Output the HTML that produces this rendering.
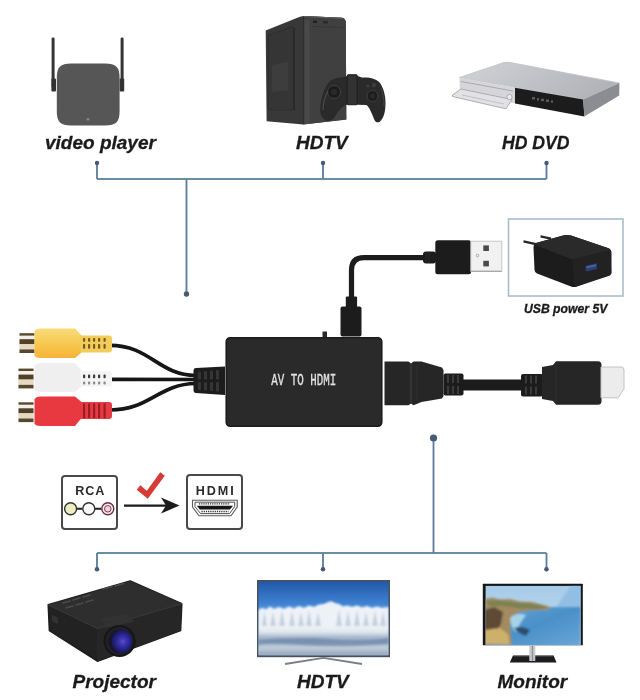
<!DOCTYPE html>
<html><head><meta charset="utf-8">
<style>
html,body{margin:0;padding:0;background:#fff;}
body{width:640px;height:700px;overflow:hidden;position:relative;font-family:"Liberation Sans",sans-serif;}
svg{position:absolute;left:0;top:0;display:block;}
.lbl{font-family:"Liberation Sans",sans-serif;font-weight:bold;font-style:italic;fill:#1a1a1a;stroke:#1a1a1a;stroke-width:0.3px;}
</style></head>
<body>
<svg width="640" height="700" viewBox="0 0 640 700">
<defs>
  <linearGradient id="sky" x1="0" y1="0" x2="0" y2="1">
    <stop offset="0" stop-color="#2258a8"/>
    <stop offset="0.3" stop-color="#3f82d2"/>
    <stop offset="0.42" stop-color="#6aa6e2"/>
    <stop offset="1" stop-color="#9cc4ea"/>
  </linearGradient>
  <linearGradient id="water" x1="0" y1="0" x2="0" y2="1">
    <stop offset="0" stop-color="#eef2f6"/>
    <stop offset="0.18" stop-color="#dfe6ee"/>
    <stop offset="0.35" stop-color="#a9bace"/>
    <stop offset="0.5" stop-color="#93a8c2"/>
    <stop offset="0.72" stop-color="#c2cedb"/>
    <stop offset="1" stop-color="#92a2b8"/>
  </linearGradient>
  <linearGradient id="msky" x1="0" y1="0" x2="0" y2="1">
    <stop offset="0" stop-color="#a6cbe8"/>
    <stop offset="1" stop-color="#c4dcef"/>
  </linearGradient>
  <linearGradient id="msea" x1="0" y1="0" x2="1" y2="1">
    <stop offset="0" stop-color="#62a8d4"/>
    <stop offset="0.5" stop-color="#4a90c8"/>
    <stop offset="1" stop-color="#6aa6d6"/>
  </linearGradient>
  <linearGradient id="ylw" x1="0" y1="0" x2="0" y2="1">
    <stop offset="0" stop-color="#f9dc7c"/>
    <stop offset="0.6" stop-color="#f7c447"/>
    <stop offset="1" stop-color="#f5b43a"/>
  </linearGradient>
  <clipPath id="tvclip"><rect x="258.3" y="581.3" width="130.4" height="74.2"/></clipPath>
  <clipPath id="monclip"><rect x="485.6" y="585.8" width="95.2" height="59.4"/></clipPath>
  <filter id="soft1" x="-5%" y="-5%" width="110%" height="110%"><feGaussianBlur stdDeviation="0.9"/></filter>
  <filter id="soft2" x="-5%" y="-5%" width="110%" height="110%"><feGaussianBlur stdDeviation="1.4"/></filter>
  <filter id="glob" filterUnits="userSpaceOnUse" x="0" y="0" width="640" height="700"><feGaussianBlur stdDeviation="0.45"/></filter>
  <linearGradient id="dvdtop" x1="0" y1="0" x2="1" y2="0.3">
    <stop offset="0" stop-color="#d2d3d7"/>
    <stop offset="1" stop-color="#b3b4b9"/>
  </linearGradient>
  <radialGradient id="lens" cx="0.6" cy="0.5" r="0.55">
    <stop offset="0" stop-color="#6048c8"/>
    <stop offset="0.35" stop-color="#3430a8"/>
    <stop offset="0.75" stop-color="#1e1c70"/>
    <stop offset="1" stop-color="#16161e"/>
  </radialGradient>
</defs>
<g filter="url(#glob)">
<rect x="0" y="0" width="640" height="700" fill="#fff"/>

<!-- ============ connection lines ============ -->
<g stroke="#6a8ea2" stroke-width="1.85" fill="none">
  <path d="M97 179 H546.5"/>
  <path d="M97 553 H546.5"/>
</g>
<g stroke="#5b7e9f" stroke-width="1.85" fill="none">
  <path d="M97 163 V179"/>
  <path d="M323 163 V179"/>
  <path d="M546.5 163 V179"/>
  <path d="M186.5 179 V293"/>
  <path d="M433.5 438 V553"/>
  <path d="M97 553 V569"/>
  <path d="M323 553 V569"/>
  <path d="M546.5 553 V569"/>
</g>
<g fill="#485a72">
  <circle cx="97" cy="163" r="2.2"/>
  <circle cx="323" cy="163" r="2.2"/>
  <circle cx="546.5" cy="163" r="2.2"/>
  <circle cx="186.5" cy="294" r="2.7"/>
  <circle cx="433.5" cy="438" r="3.6"/>
  <circle cx="97" cy="569.2" r="2.3"/>
  <circle cx="323" cy="569.2" r="2.3"/>
  <circle cx="546.5" cy="569.2" r="2.3"/>
</g>

<!-- ============ video player ============ -->
<g>
  <rect x="51.6" y="37.5" width="3" height="50" rx="1.2" fill="#363636"/>
  <rect x="51.4" y="78.5" width="4.6" height="13" rx="1" fill="#313131"/>
  <rect x="120.6" y="37.5" width="3" height="50" rx="1.2" fill="#363636"/>
  <rect x="119.6" y="78.5" width="4.6" height="13" rx="1" fill="#313131"/>
  <path d="M71 63.5 H105 C116 63.5 119.6 67 119.6 78 V111 C119.6 122 116 125.5 105 125.5 H71 C60.4 125.5 56.8 122 56.8 111 V78 C56.8 67 60.4 63.5 71 63.5 Z" fill="#575757"/>
  <circle cx="88" cy="119.3" r="1.3" fill="#8a8a8a"/>
</g>
<text class="lbl" x="45" y="149" font-size="19">video player</text>

<!-- ============ PC tower + controller ============ -->
<g>
  <path d="M265.7 30.5 L298 17.5 Q301 16 304 16 L342 17.8 Q345.5 18.5 345.8 22 L346.3 119.5 L303.4 124.5 L266.6 121.2 Z" fill="#383838"/>
  <path d="M303 16 L342 17.8 Q345.5 18.5 345.8 22 L346.3 119.5 L303 124.5 Z" fill="#414141"/>
  <path d="M303.6 16.5 L303.6 124" stroke="#2e2e2e" stroke-width="1"/>
  <rect x="304.5" y="20" width="5" height="104" fill="#484848"/>
  <path d="M268.5 35 L291.5 27 Q293.5 26.5 293.5 28.5 L293.5 108 Q293.5 110 291.5 110 L270 110 Q268.5 110 268.5 108 Z" fill="#363636" stroke="#2e2e2e" stroke-width="1.2"/>
  <path d="M293 28 L295 28 L295 110 L293 110 Z" fill="#2a2a2a"/>
  <path d="M272 65 L288 62 L288 90 L272 92 Z" fill="#3e3e3e"/>
  <path d="M304 16.5 L342 18.3" stroke="#5e5e5e" stroke-width="1.2" fill="none"/>
  <rect x="313" y="20.5" width="4" height="2.5" fill="#222"/>
  <rect x="323" y="21" width="5" height="2.5" fill="#2a2a2a"/>
  <path d="M311 26.5 L343 27.5" stroke="#363636" stroke-width="1" fill="none"/>
<path d="M326 120.5 C321 118 319.5 112 320.5 106 C321.5 97 324 88 329 82 C332 79 337 77.5 342 77.5 L347 76 L347.5 74.6 L357 74.6 L357.5 76 L362 77.5 C370 77 377 79 380 83 C384 89 385.5 96 385.5 103 C385.5 111 384 118 380 121.5 C378 123 375.5 122.5 374.5 120 C372 114 370 108 366.5 105 L357 104.7 L347 104.7 C342 106 339 110 336 115 C333 120 330 122 326 120.5 Z" fill="#292929"/>
  <rect x="347.3" y="74.8" width="9.8" height="30" rx="1" fill="#303030" stroke="#202020" stroke-width="0.8"/>
  <circle cx="334" cy="92" r="6.5" fill="#1e1e1e" stroke="#404040" stroke-width="1"/>
  <circle cx="334" cy="92" r="3" fill="#2c2c2c"/>
  <circle cx="372.5" cy="96" r="5.5" fill="#1e1e1e" stroke="#404040" stroke-width="1"/>
  <circle cx="372.5" cy="96" r="2.5" fill="#2c2c2c"/>
  <circle cx="374" cy="85" r="2.2" fill="#3c3c3c"/>
  <circle cx="368" cy="86" r="1.6" fill="#3c3c3c"/>
  <path d="M323 110 Q323.5 99 328 91" stroke="#4a4a4a" stroke-width="1.3" fill="none"/>
  <path d="M381 88 Q384 96 384 106" stroke="#404040" stroke-width="1.1" fill="none"/>
</g>
<text class="lbl" x="296" y="149" font-size="19">HDTV</text>

<!-- ============ HD DVD ============ -->
<g stroke-linejoin="round">
  <path d="M459.4 77.5 L503.8 62.5 L509 62.3 L619.4 83 L583.3 99.5 Z" fill="url(#dvdtop)" stroke="#c0c1c6" stroke-width="0.8"/>
  <path d="M459.4 77.8 L515 87.7 L515 103.5 L460 91.5 Z" fill="#d6d6da"/>
  <path d="M461 81.5 L513 91" stroke="#a8a8ae" stroke-width="1"/>
  <path d="M452.5 95 L461 89 L512 99.5 L506 108.8 L452.5 96.5 Z" fill="#e2e2e5" stroke="#a6a6ac" stroke-width="0.9"/>
  <path d="M462 95 L504 104" stroke="#b8b8be" stroke-width="0.8"/>
  <circle cx="509.5" cy="97" r="2.6" fill="#ececee" stroke="#9a9aa0" stroke-width="0.7"/>
  <path d="M515 87.7 L583.3 99.5 L584.3 116.5 L515 103.6 Z" fill="#1c1c1e"/>
  <g fill="#5a5a60"><rect x="532" y="97" width="3" height="2.5"/><rect x="537" y="98" width="2" height="2.5"/><rect x="541" y="98.7" width="3" height="2.5"/><rect x="546" y="99.5" width="3" height="2.5"/><rect x="551" y="100.3" width="2" height="2.5"/></g>
  <path d="M583.3 99.5 L619.4 83 L619.2 95.5 L584.3 116.5 Z" fill="#8c8d92"/>
</g>
<text class="lbl" x="502" y="149" font-size="19" textLength="67.5" lengthAdjust="spacingAndGlyphs">HD DVD</text>

<!-- ============ RCA cables ============ -->
<g fill="none" stroke="#151515" stroke-width="3.7" stroke-linecap="round">
  <path d="M110 345.3 C150 345.3 158 375 196 375.5"/>
  <path d="M110 379.3 L196 379.5"/>
  <path d="M110 410 C150 410 158 384 196 383.5"/>
</g>
<!-- yellow -->
<g>
  <rect x="19.5" y="333.2" width="15" height="19.8" fill="#f3efe6"/>
  <rect x="19.5" y="333.2" width="15" height="2.4" fill="#5a4a33"/>
  <rect x="19.5" y="339.2" width="15" height="5" fill="#4f3f28"/>
  <rect x="19.5" y="344.2" width="15" height="5" fill="#e6d9c2"/>
  <rect x="19.5" y="349.4" width="15" height="3.6" fill="#56462f"/>
  <path d="M34.5 331 Q35.5 328.5 41 328.5 H75 L81.5 335.5 V352.5 L75 358 H41 Q35.5 358 34.5 355.5 Z" fill="url(#ylw)"/>
  <path d="M80.5 335.5 H109 Q112 335.5 112 338.5 V349.5 Q112 352.5 109 352.5 H80.5 Z" fill="#f3cd5c"/>
  <rect x="83" y="338" width="2.2" height="3.8" rx="0.8" fill="#7a5a1e"/><rect x="88" y="338" width="2.2" height="3.8" rx="0.8" fill="#7a5a1e"/><rect x="93" y="338" width="2.2" height="3.8" rx="0.8" fill="#7a5a1e"/><rect x="98" y="338" width="2.2" height="3.8" rx="0.8" fill="#7a5a1e"/><rect x="103.5" y="338" width="2.2" height="3.8" rx="0.8" fill="#7a5a1e"/>
  <rect x="83" y="344" width="2.2" height="4.8" rx="0.8" fill="#7a5a1e"/><rect x="88" y="344" width="2.2" height="4.8" rx="0.8" fill="#7a5a1e"/><rect x="93" y="344" width="2.2" height="4.8" rx="0.8" fill="#7a5a1e"/><rect x="98" y="344" width="2.2" height="4.8" rx="0.8" fill="#7a5a1e"/><rect x="103.5" y="344" width="2.2" height="4.8" rx="0.8" fill="#7a5a1e"/>
</g>
<!-- white -->
<g>
  <rect x="18.5" y="368.6" width="15" height="19.8" fill="#f3efe6"/>
  <rect x="18.5" y="368.6" width="15" height="2.4" fill="#5a4a33"/>
  <rect x="18.5" y="374.6" width="15" height="5" fill="#4f3f28"/>
  <rect x="18.5" y="379.6" width="15" height="5" fill="#e6d9c2"/>
  <rect x="18.5" y="384.8" width="15" height="3.6" fill="#56462f"/>
  <path d="M34.5 366 Q35.5 363 41 363 H75 L81.5 371 V386.5 L75 392 H41 Q35.5 392 34.5 389.5 Z" fill="#efefef"/>
  <path d="M80.5 371 H109 Q112 371 112 374 V383.5 Q112 386.5 109 386.5 H80.5 Z" fill="#f4f4f4"/>
  <rect x="83" y="374.6" width="2.2" height="3.6" rx="0.8" fill="#3a3a3a"/><rect x="88" y="374.6" width="2.2" height="3.6" rx="0.8" fill="#3a3a3a"/><rect x="93" y="374.6" width="2.2" height="3.6" rx="0.8" fill="#3a3a3a"/><rect x="98" y="374.6" width="2.2" height="3.6" rx="0.8" fill="#3a3a3a"/><rect x="103.5" y="374.6" width="2.2" height="3.6" rx="0.8" fill="#3a3a3a"/>
  <rect x="83" y="381.5" width="2.2" height="3" rx="0.8" fill="#8a8a8a"/><rect x="88" y="381.5" width="2.2" height="3" rx="0.8" fill="#8a8a8a"/><rect x="93" y="381.5" width="2.2" height="3" rx="0.8" fill="#8a8a8a"/><rect x="98" y="381.5" width="2.2" height="3" rx="0.8" fill="#8a8a8a"/><rect x="103.5" y="381.5" width="2.2" height="3" rx="0.8" fill="#8a8a8a"/>
</g>
<!-- red -->
<g>
  <rect x="18.5" y="402.3" width="15" height="19.8" fill="#f3efe6"/>
  <rect x="18.5" y="402.3" width="15" height="2.4" fill="#5a4a33"/>
  <rect x="18.5" y="408.3" width="15" height="5" fill="#4f3f28"/>
  <rect x="18.5" y="413.3" width="15" height="5" fill="#e6d9c2"/>
  <rect x="18.5" y="418.5" width="15" height="3.6" fill="#56462f"/>
  <path d="M34.5 399.5 Q35.5 396.5 41 396.5 H75 L81.5 402 V418 L75 426 H41 Q35.5 426 34.5 423.5 Z" fill="#e8373f"/>
  <path d="M80.5 402 H109 Q112 402 112 405 V416 Q112 419 109 419 H80.5 Z" fill="#e53b42"/>
  <rect x="83" y="403.2" width="2.2" height="15" rx="0.8" fill="#9e1f25"/><rect x="88" y="403.2" width="2.2" height="15" rx="0.8" fill="#9e1f25"/><rect x="93" y="403.2" width="2.2" height="15" rx="0.8" fill="#9e1f25"/><rect x="98" y="403.2" width="2.2" height="15" rx="0.8" fill="#9e1f25"/><rect x="103.5" y="403.2" width="2.2" height="15" rx="0.8" fill="#9e1f25"/>
</g>
<!-- boot -->
<path d="M196 368 L225 366.5 L225 395 L196 393 Q193.5 393 193.5 390 V371 Q193.5 368 196 368 Z" fill="#1c1c1c"/>
<g fill="#363636"><rect x="198" y="371.5" width="3" height="8" rx="1"/><rect x="204" y="371" width="3" height="8.5" rx="1"/><rect x="210" y="370.5" width="3" height="9" rx="1"/><rect x="216" y="370" width="3" height="9.5" rx="1"/>
<rect x="198" y="382" width="3" height="8" rx="1"/><rect x="204" y="382" width="3" height="8.5" rx="1"/><rect x="210" y="382" width="3" height="9" rx="1"/><rect x="216" y="382" width="3" height="9.5" rx="1"/></g>

<!-- ============ USB cable + plug ============ -->
<path d="M351.5 300 V270 Q351.5 257.6 364 257.6 H426" fill="none" stroke="#1c1c1c" stroke-width="5.2"/>
<rect x="345.8" y="296.4" width="11.3" height="11" rx="1" fill="#1e1e1e"/>
<rect x="340.5" y="306.5" width="21" height="30" rx="2" fill="#1e1e1e"/>
<rect x="423" y="251.5" width="13" height="12" rx="3" fill="#1c1c1c"/>
<path d="M426 252 V263 M429 252 V263" stroke="#2c2c2c" stroke-width="0.8"/>
<rect x="435.3" y="240.3" width="35.8" height="34" rx="2.5" fill="#1f1f1f"/>
<rect x="470.8" y="241.2" width="31" height="30.2" fill="#f1f1f1" stroke="#c2c2c2" stroke-width="0.9"/>
<path d="M471 271.2 H501.5" stroke="#9a9a9a" stroke-width="1"/>
<rect x="483.3" y="245.4" width="5.6" height="5.6" fill="#4a4a4a"/>
<rect x="483.3" y="260.8" width="5.6" height="5.6" fill="#4a4a4a"/>
<circle cx="477.5" cy="255.5" r="1.3" fill="none" stroke="#9a9a9a" stroke-width="0.8"/>

<!-- ============ AV to HDMI box ============ -->
<rect x="322.5" y="331.5" width="4.5" height="7" fill="#2a2a2a"/>
<rect x="226.2" y="337.7" width="155.6" height="88.6" rx="4" fill="#2a2a2a" stroke="#1a1a1a" stroke-width="1.5"/>
<text x="271.2" y="385.4" font-size="16" fill="#e4e4e4" stroke="#e4e4e4" stroke-width="0.3" font-family="Liberation Mono, monospace" textLength="65" lengthAdjust="spacingAndGlyphs">AV TO HDMI</text>

<!-- ============ USB power charger ============ -->
<rect x="508.5" y="219" width="114.5" height="77" fill="#fff" stroke="#a9bcc8" stroke-width="1.6"/>
<g stroke-linejoin="round">
  <path d="M523.5 241.3 L537 244.3" stroke="#262626" stroke-width="2.4"/>
  <path d="M540.5 236.3 L551 238.6" stroke="#262626" stroke-width="2.4"/>
  <path d="M536 243 Q533.5 244 533.5 247 L534.5 270 Q534.7 272.5 537 273.5 L571 286.5 Q574 287.5 577 286.5 L608.5 276 Q611.5 275 611.5 272 L611.5 253 Q611.5 249.5 608.5 248.3 L571 235.5 Q567.5 234.5 564 235.3 Z" fill="#1f1f1f"/>
  <path d="M536 243 L564 235.3 Q567.5 234.5 571 235.5 L608.5 248.3 Q610.5 249 609 250.5 L576 259 Q573 259.8 570 258.6 L536 245 Q534 244 536 243 Z" fill="#2a2a2a"/>
  <path d="M572.5 259.3 L610.5 250 L611.3 273.5 L575 287 Z" fill="#242424"/>
  <path d="M585.5 265.8 L596.8 263.3 L597 269 L585.7 271.5 Z" fill="#2d3f72"/>
  <path d="M586.5 266.6 L596 264.5 L596 266.2 L586.5 268.3 Z" fill="#4a64a8"/>
</g>
<text class="lbl" x="524" y="312.6" font-size="12.2" fill="#333">USB power 5V</text>

<!-- ============ HDMI cable ============ -->
<rect x="460" y="379.5" width="64" height="11" fill="#1c1c1c"/>
<path d="M384.5 361.5 L408.5 361.5 L411 363.5 L413.5 361.5 L421.5 361.5 L442 367.5 L443.5 370 V396 L442 398.5 L421.5 402 L413.5 405.3 L411 403.5 L408.5 405.3 L384.5 405.3 Z" fill="#262626"/>
<path d="M411 364 V403" stroke="#3a3a3a" stroke-width="1"/>
<path d="M417 366 V400" stroke="#303030" stroke-width="1.2"/>
<rect x="443.5" y="373.5" width="20" height="22" rx="2" fill="#1c1c1c"/>
<g fill="#3a3a3a"><rect x="447" y="375" width="2" height="8"/><rect x="452" y="375" width="2" height="8"/><rect x="457" y="375" width="2" height="8"/>
<rect x="447" y="386" width="2" height="8"/><rect x="452" y="386" width="2" height="8"/><rect x="457" y="386" width="2" height="8"/></g>
<rect x="521" y="374" width="22" height="22.5" rx="2" fill="#1c1c1c"/>
<g fill="#3a3a3a"><rect x="525" y="375.5" width="2" height="8"/><rect x="530" y="375.5" width="2" height="8"/><rect x="535" y="375.5" width="2" height="8"/>
<rect x="525" y="386.5" width="2" height="8"/><rect x="530" y="386.5" width="2" height="8"/><rect x="535" y="386.5" width="2" height="8"/></g>
<path d="M542 367 L553 365 L556 361.2 L598 361.2 Q601.5 361.2 601.5 365 V401 Q601.5 404.8 598 404.8 L556 404.8 L553 401 L542 399 Z" fill="#262626"/>
<path d="M556 363 V403" stroke="#333" stroke-width="1"/>
<path d="M601 367 L621 367 Q624 367 624 370 V389 L618 397.8 L601 397.8 Z" fill="#ececec" stroke="#c4c4c4" stroke-width="1"/>

<!-- ============ RCA -> HDMI icons ============ -->
<rect x="62" y="476" width="55" height="53" rx="3" fill="#fff" stroke="#4a4a4a" stroke-width="2"/>
<text x="75.3" y="495.3" font-size="12.6" font-weight="bold" fill="#2a2a2a" font-family="Liberation Sans, sans-serif" letter-spacing="0.9">RCA</text>
<path d="M76.5 508.8 H82.5 M95 508.8 H101.5" stroke="#222" stroke-width="2"/>
<circle cx="70.6" cy="508.8" r="6" fill="#eeeec0" stroke="#333" stroke-width="1.4"/>
<circle cx="88.8" cy="508.8" r="6" fill="#fafafa" stroke="#333" stroke-width="1.4"/>
<circle cx="107.8" cy="508.8" r="6" fill="#fbeef2" stroke="#6a3040" stroke-width="1.4"/>
<circle cx="107.8" cy="508.8" r="3.3" fill="#f6d0de" stroke="#7a3a50" stroke-width="1"/>

<path d="M124 505.6 H170" stroke="#1a1a1a" stroke-width="2.4"/>
<path d="M179.5 505.6 L161 497.5 L166 505.6 L161 513.5 Z" fill="#1a1a1a"/>
<path d="M138.5 487.5 L147.3 494.8 L162.5 474" fill="none" stroke="#d63b36" stroke-width="5.6" stroke-linejoin="miter" stroke-miterlimit="6"/>

<rect x="187" y="475" width="55" height="54" rx="3" fill="#fff" stroke="#4a4a4a" stroke-width="2"/>
<text x="195.8" y="494.5" font-size="12.6" font-weight="bold" fill="#2a2a2a" font-family="Liberation Sans, sans-serif" letter-spacing="1.9">HDMI</text>
<path d="M192.5 500.3 H237.2 V507 L231 515.8 H199 L192.5 507 Z" fill="#fff" stroke="#5a5a5a" stroke-width="1.1"/>
<path d="M195 502.2 H234.7 V506.6 L229.6 513.6 H200.6 L195 506.6 Z" fill="#fff" stroke="#3a3a3a" stroke-width="0.9"/>
<path d="M199 503.9 H230" stroke="#2a2a2a" stroke-width="1.3" stroke-dasharray="1.2 1"/>
<path d="M196.8 505.8 H233 L230 509.6 H199.8 Z" fill="#151515"/>
<path d="M201.5 511.5 H228.5" stroke="#2a2a2a" stroke-width="1.3" stroke-dasharray="1.2 1"/>

<!-- ============ Projector ============ -->
<g stroke-linejoin="round">
  <path d="M48.2 604.8 L130.2 580.9 L181.8 603.6 L180.6 630.6 L97.4 661.2 L49.4 630.6 Z" fill="#232323" stroke="#1c1c1c" stroke-width="1.5"/>
  <path d="M48.2 604.8 L130.2 580.9 L181.8 603.6 L97.4 628.5 Z" fill="#2d2d2d"/>
  <path d="M97.4 628.5 L181.8 603.6 L180.6 630.6 L97.4 661.2 Z" fill="#282828"/>
  <path d="M48.2 604.8 L97.4 628.5" stroke="#3a3a3a" stroke-width="1"/>
  <path d="M97.4 628.5 L181.8 603.6" stroke="#3a3a3a" stroke-width="1"/>
  <g stroke="#4a4a4a" stroke-width="1.6" stroke-linecap="round">
    <path d="M63 603 L70 601"/><path d="M73 600 L80 598"/><path d="M83 597 L90 595"/>
    <path d="M66 608 L73 606"/><path d="M76 605 L83 603"/><path d="M86 602 L93 600"/>
    <path d="M103 589 L112 586.5"/><path d="M115 586 L124 583.5"/>
  </g>
  <path d="M52 615 L58 618 L58 624 L52 621 Z" fill="#333"/>
  <path d="M100 618 L128 614 L134 622 L106 628 Z" fill="#303030"/>
  <circle cx="119.5" cy="641" r="16" fill="#151515"/>
  <circle cx="119.5" cy="641" r="13.5" fill="#1e1e2a" stroke="#2a2a2a" stroke-width="0.8"/>
  <ellipse cx="120.5" cy="641.5" rx="11.5" ry="12" fill="url(#lens)"/>
</g>
<text class="lbl" x="72.5" y="687.5" font-size="19">Projector</text>

<!-- ============ HDTV (bottom) ============ -->
<g>
  <rect x="257" y="580" width="133" height="77.2" fill="#4b4f57"/>
  <g clip-path="url(#tvclip)">
  <rect x="258.3" y="581.3" width="130.4" height="74.2" fill="url(#sky)"/>
  <g filter="url(#soft1)">
  <path d="M258.3 610 L262 608 L266 609.5 L270 606.5 L274 609 L279 607 L284 609 L289 606.5 L294 608.5 L299 606 L304 608 L309 605.5 L314 607 L319 604.5 L324 604 L328 602 L331.5 601.3 L335 603 L339 604 L343 606.5 L347 605.5 L352 607 L357 605.5 L362 607.5 L367 606 L372 608 L377 606.5 L382 608 L388.7 607 V630 H258.3 Z" fill="#eef2f7"/>
  <g fill="#c0cddc" opacity="0.9">
    <path d="M262 626 L264.5 611 L267 626 Z"/><path d="M270 626 L273 612 L276 626 Z"/><path d="M279 626 L282 610 L285 626 Z"/>
    <path d="M289 626 L292 611 L295 626 Z"/><path d="M298 626 L301 612 L304 626 Z"/><path d="M306 626 L309 610 L312 626 Z"/>
    <path d="M315 626 L318 612 L321 626 Z"/><path d="M336 626 L339 609 L342 626 Z"/><path d="M345 626 L348 611 L351 626 Z"/>
    <path d="M354 626 L357 610 L360 626 Z"/><path d="M363 626 L366 612 L369 626 Z"/><path d="M372 626 L375 610 L378 626 Z"/><path d="M380 626 L383 611 L386 626 Z"/>
  </g>
  <rect x="258.3" y="627" width="130.4" height="28.5" fill="url(#water)"/>
  <path d="M258.3 640 Q300 636 330 639 T388.7 638 V644 Q340 648 300 645 T258.3 646 Z" fill="#5e7aa0" opacity="0.55"/>
  </g>
  </g>
  <path d="M285 664 L323.5 657.8 L362 664" fill="none" stroke="#7a7e86" stroke-width="1.8"/>
</g>
<text class="lbl" x="297" y="687.5" font-size="19">HDTV</text>

<!-- ============ Monitor ============ -->
<g>
  <rect x="482.8" y="583.8" width="100" height="61.4" rx="0.5" fill="#151515"/>
  <g clip-path="url(#monclip)">
  <rect x="484.8" y="585.6" width="96" height="60" fill="url(#msky)"/>
  <g filter="url(#soft1)">
  <path d="M571 585.6 L552 613 L580.8 613 V585.6 Z" fill="#8cbbe4" opacity="0.85"/>
  <path d="M484.8 607 H580.8 V646 H484.8 Z" fill="url(#msea)"/>
  <path d="M484.8 599 L492 597.5 L500 599.5 L510 599 L520 601.5 L532 602 L542 604.5 L552 607.5 L546 610 L530 610.5 L518 612 L512 618 L510 628 L512 644.2 H484.8 Z" fill="#a38a5e"/>
  <path d="M486 601 L500 600.5 L515 602.5 L530 603.5 L548 607 L540 609 L520 608.5 L505 606 L490 606 Z" fill="#74804f" opacity="0.85"/>
  <path d="M484.8 610 L494 607 L503 612 L501 624 L496 632 L493 644.2 H484.8 Z" fill="#5e4b35"/>
  <path d="M485 630 L500 628 L508 634 L510 644.2 H485 Z" fill="#cdb06a"/>
  <path d="M510 618 Q516 612 526 615 Q520 622 516 632 Q511 628 510 618 Z" fill="#a6d3ea"/>
  <path d="M514 628 Q522 625 530 630 L526 636 Q518 633 514 628 Z" fill="#2f4d6a"/>
  </g>
  </g>
  <path d="M513 655.5 H553.6 L556.5 662.6 H509.8 Z" fill="#1a1a1a"/>
  <path d="M514 656.3 H553" stroke="#4a4a4a" stroke-width="0.9"/>
  <rect x="529.3" y="645.5" width="6" height="15.5" fill="#c6c8cc"/>
  <rect x="531.8" y="645.5" width="1.3" height="15.5" fill="#8c9096"/>
</g>
<text class="lbl" x="497.5" y="687.5" font-size="19">Monitor</text>

</g>
</svg>
</body></html>
